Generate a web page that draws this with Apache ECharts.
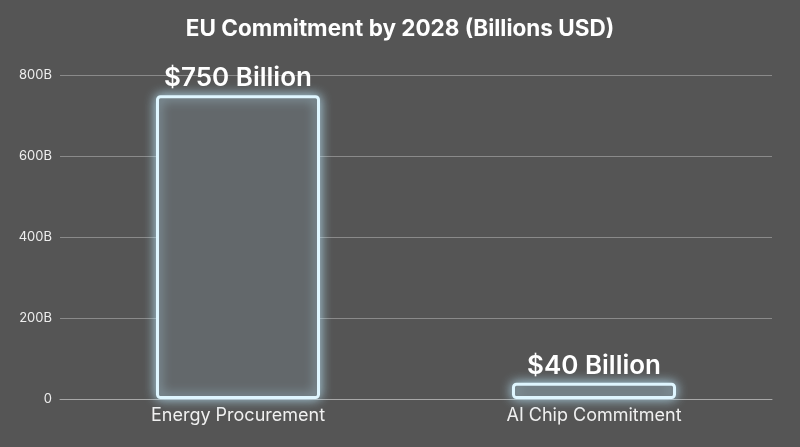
<!DOCTYPE html>
<html><head><meta charset="utf-8">
<script src="https://cdn.jsdelivr.net/npm/echarts@6/dist/echarts.min.js"></script>
<style>html,body{margin:0;padding:0;background:#555555;}#c{width:800px;height:447px;}</style>
</head><body><div id="c"></div>
<script>
const categories = ['Energy Procurement', 'AI Chip Commitment'];
const values = [750, 40];
const barLabels = ['$750 Billion', '$40 Billion'];
const yTicks = [0, 200, 400, 600, 800];

const chart = echarts.init(document.getElementById('c'));
chart.setOption({
  backgroundColor: '#555555',
  textStyle: { fontFamily: 'Inter' },
  title: {
    text: 'EU Commitment by 2028 (Billions USD)',
    left: 'center', top: 13,
    textStyle: { color: '#ffffff', fontSize: 22.5, fontWeight: 'bold', fontFamily: 'Inter' }
  },
  grid: { left: 60, right: 28, top: 75, bottom: 48 },
  xAxis: {
    type: 'category', data: categories,
    axisLine: { show: true, lineStyle: { color: '#a8a8a8', width: 1 } },
    axisTick: { show: false },
    axisLabel: { color: '#f0f0f0', fontSize: 18, margin: 8, fontFamily: 'Inter' }
  },
  yAxis: {
    type: 'value', min: 0, max: 800, interval: 200,
    axisLine: { show: false }, axisTick: { show: false },
    splitLine: { lineStyle: { color: '#8a8a8a', width: 1 } },
    axisLabel: {
      color: '#eeeeee', fontSize: 13, margin: 8, fontFamily: 'Inter',
      formatter: v => yTicks.includes(v) ? (v === 0 ? '0' : v + 'B') : ''
    }
  },
  series: [{
    type: 'bar',
    data: values,
    barWidth: 164,
    itemStyle: {
      color: '#63686b',
      borderColor: '#dff6ff',
      borderWidth: 3,
      borderRadius: 3,
      shadowColor: 'rgba(190,235,255,0.85)',
      shadowBlur: 12
    },
    label: {
      show: true, position: 'top', distance: 4,
      color: '#ffffff', fontSize: 26, fontWeight: 600, fontFamily: 'Inter',
      formatter: p => barLabels[p.dataIndex]
    }
  }]
});
</script></body></html>
